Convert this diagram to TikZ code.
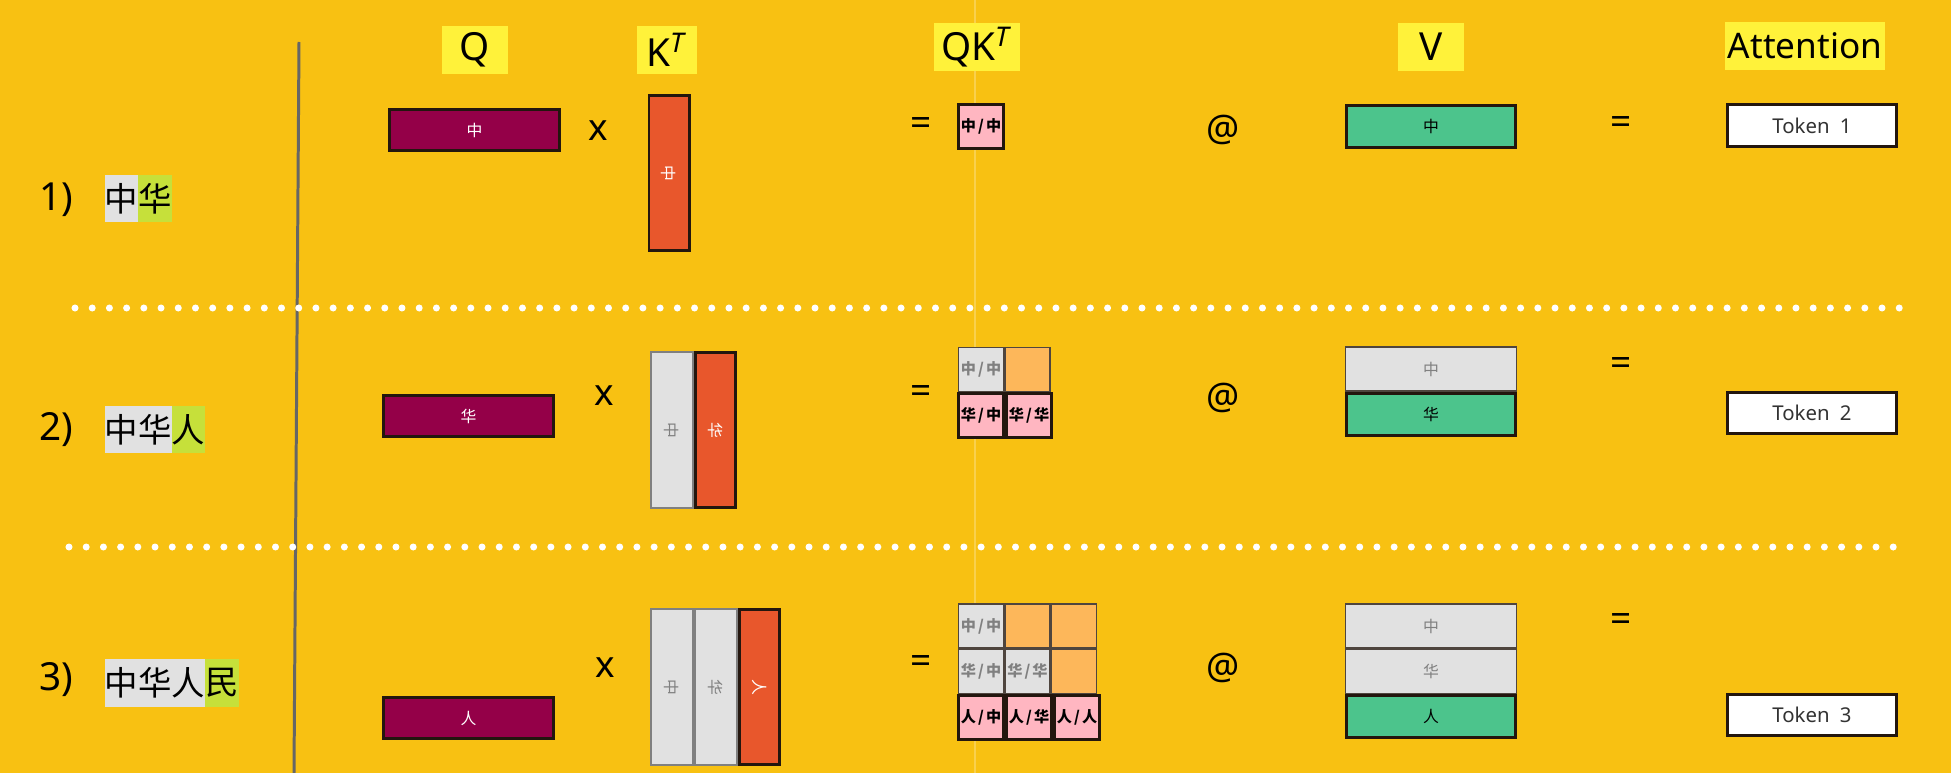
\documentclass[tikz,border=0pt]{standalone}
\usepackage{fontspec}
\setmainfont{Noto Sans}
\newfontfamily\cjk{Noto Sans CJK SC}
\usepackage{graphicx}
\usepackage{tikz}
\usetikzlibrary{positioning}
\usepackage{xcolor}
\definecolor{bgyel}{HTML}{F8C112}
\definecolor{labyel}{HTML}{FFF23A}
\definecolor{qcol}{HTML}{940048}
\definecolor{kcol}{HTML}{E8572C}
\definecolor{vcol}{HTML}{4CC48C}
\definecolor{cellgray}{HTML}{E1E1E1}
\definecolor{cellpink}{HTML}{FFB6C1}
\definecolor{cellorange}{HTML}{FDB75A}
\definecolor{wordgreen}{HTML}{C6E03A}
\definecolor{edge}{HTML}{23160E}
\newcommand{\pair}[2]{#1\kern0.6pt/\kern0.6pt#2}

\begin{document}
\begin{tikzpicture}[x=0.01cm, y=-0.01cm,
  hdr/.style={fill=labyel, inner sep=0pt, minimum height=0.47cm, font=\fontsize{11}{13}\selectfont},
  op/.style={font=\fontsize{10.5}{12}\selectfont},
  chr/.style={inner sep=0pt, minimum width=0.335cm, minimum height=0.47cm, font=\cjk\fontsize{9.5}{11}\selectfont},
  qrow/.style={draw=edge, line width=0.85pt, fill=qcol, inner sep=0pt, minimum width=1.70cm, minimum height=0.41cm, text=white, font=\cjk\fontsize{4.5}{5}\selectfont},
  kact/.style={draw=edge, line width=0.85pt, fill=kcol, inner sep=0pt, minimum width=0.40cm, minimum height=1.54cm, text=white, font=\cjk\fontsize{4.5}{5}\selectfont},
  kold/.style={draw=gray, line width=0.5pt, fill=cellgray, inner sep=0pt, minimum width=0.42cm, minimum height=1.56cm, text=gray, font=\cjk\fontsize{4.5}{5}\selectfont},
  cell/.style={inner sep=0pt, minimum width=0.45cm, minimum height=0.44cm, font=\cjk\bfseries\fontsize{4.3}{5}\selectfont},
  cnew/.style={cell, draw=edge, line width=0.85pt, fill=cellpink, text=black},
  cold/.style={cell, draw=edge!80, line width=0.4pt, fill=cellgray, text=gray},
  cmask/.style={cell, draw=edge!80, line width=0.4pt, fill=cellorange},
  vnew/.style={draw=edge, line width=0.85pt, fill=vcol, inner sep=0pt, minimum width=1.69cm, minimum height=0.42cm, font=\cjk\fontsize{4.5}{5}\selectfont},
  vold/.style={draw=edge!80, line width=0.4pt, fill=cellgray, inner sep=0pt, minimum width=1.71cm, minimum height=0.44cm, text=gray, font=\cjk\fontsize{4.5}{5}\selectfont},
  tok/.style={draw=edge, line width=0.85pt, fill=white, inner sep=0pt, minimum width=1.69cm, minimum height=0.41cm, text=black!80, font=\fontsize{5.8}{6}\selectfont},
  dots/.style={white, line width=0.07cm, line cap=round, dash pattern=on 0pt off 0.172cm}]

% Background
\fill[bgyel] (0,0) rectangle (1951,773);
\useasboundingbox (0,0) rectangle (1951,773);
\draw[white, opacity=0.25, line width=0.4pt] (975,0) -- (975,773);

% Divider and separators
\draw[gray!80!black, line width=0.85pt] (299,42) -- (294,773);
\draw[dots] (75,308) -- (1900,308);
\draw[dots] (69,547) -- (1895,547);

% Header labels
\node[hdr, minimum width=0.66cm] (hQ) at (475,50) {Q};
\node[hdr, minimum width=0.59cm] (hK) at (667,50) {K\textsuperscript{\textit{T}}};
\node[hdr, minimum width=0.86cm] (hQK) at (977,47) {QK\textsuperscript{\textit{T}}};
\node[hdr, minimum width=0.66cm] (hV) at (1431,47) {V};
\node[hdr, minimum width=1.59cm, font=\fontsize{10}{12}\selectfont] (hAtt) at (1805,46) {Attention};

% Row 1
\node[op, font=\fontsize{11}{13}\selectfont] (n1) at (56,200) {1)};
\node[chr, fill=cellgray] (w1a) at (121.5,198.5) {中};
\node[chr, fill=wordgreen, right=-0.4pt of w1a] (w1b) {华};
\node[qrow] (q1) at (474.5,130) {中};
\node[op] (x1) at (598,131) {x};
\node[kact] (k1) at (669,173) {\rotatebox{-90}{中}};
\node[op] (eq1) at (921,127) {\textbf{=}};
\node[cnew] (s1aa) at (981,126.5) {\pair{中}{中}};
\node[op] (at1) at (1223,130) {@};
\node[vnew] (v1a) at (1431,126.5) {中};
\node[op] (eqb1) at (1621,126) {\textbf{=}};
\node[tok] (t1) at (1812,125.5) {Token\enspace 1};

% Row 2
\node[op, font=\fontsize{11}{13}\selectfont] (n2) at (56,430) {2)};
\node[chr, fill=cellgray] (w2a) at (121.5,429.5) {中};
\node[chr, fill=cellgray, right=-0.4pt of w2a] (w2b) {华};
\node[chr, fill=wordgreen, right=-0.4pt of w2b] (w2c) {人};
\node[qrow] (q2) at (468.5,416) {华};
\node[op] (x2) at (604,396) {x};
\node[kold] (k2a) at (672,430) {\rotatebox{-90}{中}};
\node[kact, right=0pt of k2a] (k2b) {\rotatebox{-90}{华}};
\node[op] (eq2) at (921,395) {\textbf{=}};
\node[cold] (s2aa) at (981,369.5) {\pair{中}{中}};
\node[cmask, right=0pt of s2aa] (s2ab) {};
\node[cnew, below=0pt of s2aa] (s2ba) {\pair{华}{中}};
\node[cnew, right=0pt of s2ba] (s2bb) {\pair{华}{华}};
\node[op] (at2) at (1223,398) {@};
\node[vold] (v2a) at (1431,369) {中};
\node[vnew, below=0pt of v2a] (v2b) {华};
\node[op] (eqb2) at (1621,367) {\textbf{=}};
\node[tok] (t2) at (1812,413) {Token\enspace 2};

% Row 3
\node[op, font=\fontsize{11}{13}\selectfont] (n3) at (56,680) {3)};
\node[chr, fill=cellgray] (w3a) at (121.5,683) {中};
\node[chr, fill=cellgray, right=-0.4pt of w3a] (w3b) {华};
\node[chr, fill=cellgray, right=-0.4pt of w3b] (w3c) {人};
\node[chr, fill=wordgreen, right=-0.4pt of w3c] (w3d) {民};
\node[qrow] (q3) at (468.5,718) {人};
\node[op] (x3) at (605,668) {x};
\node[kold] (k3a) at (672,687) {\rotatebox{-90}{中}};
\node[kold, right=0pt of k3a] (k3b) {\rotatebox{-90}{华}};
\node[kact, right=0pt of k3b] (k3c) {\rotatebox{-90}{人}};
\node[op] (eq3) at (921,665) {\textbf{=}};
\node[cold] (s3aa) at (981,626) {\pair{中}{中}};
\node[cmask, right=0pt of s3aa] (s3ab) {};
\node[cmask, right=0pt of s3ab] (s3ac) {};
\node[cold, below=0pt of s3aa] (s3ba) {\pair{华}{中}};
\node[cold, right=0pt of s3ba] (s3bb) {\pair{华}{华}};
\node[cmask, right=0pt of s3bb] (s3bc) {};
\node[cnew, below=0pt of s3ba] (s3ca) {\pair{人}{中}};
\node[cnew, right=0pt of s3ca] (s3cb) {\pair{人}{华}};
\node[cnew, right=0pt of s3cb] (s3cc) {\pair{人}{人}};
\node[op] (at3) at (1223,668) {@};
\node[vold] (v3a) at (1431,626) {中};
\node[vold, below=0pt of v3a] (v3b) {华};
\node[vnew, below=0pt of v3b] (v3c) {人};
\node[op] (eqb3) at (1621,623) {\textbf{=}};
\node[tok] (t3) at (1812,715) {Token\enspace 3};
\end{tikzpicture}
\end{document}
